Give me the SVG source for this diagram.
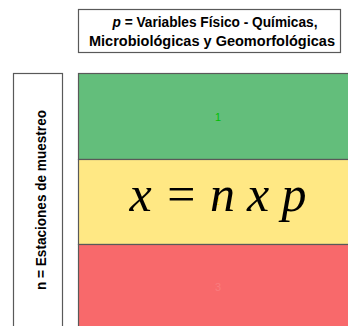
<svg xmlns="http://www.w3.org/2000/svg" width="348" height="326" viewBox="0 0 348 326">
<style>
.box{stroke:#595959;stroke-width:1.2}
.lbl{font-family:"Liberation Sans",Arial,sans-serif;font-weight:bold;font-size:14px;fill:#000}
.num{font-family:"Liberation Sans",Arial,sans-serif;font-size:11px;text-anchor:middle}
.eq{font-family:"Liberation Serif","Times New Roman",serif;font-style:italic;font-size:50px;fill:#000;text-anchor:middle}
</style>
<rect width="348" height="326" fill="#fff"/>
<g id="header">
<rect class="box" x="78.5" y="9.5" width="262" height="43" fill="#fff"/>
<text class="lbl" x="215" y="27" text-anchor="middle" textLength="205" lengthAdjust="spacingAndGlyphs"><tspan font-style="italic">p</tspan>  = Variables Físico - Químicas,</text>
<text class="lbl" x="212" y="46" text-anchor="middle" textLength="246" lengthAdjust="spacingAndGlyphs">Microbiológicas y Geomorfológicas</text>
</g>
<g id="n-label">
<rect class="box" x="13.5" y="73.5" width="49" height="260" fill="#fff"/>
<text class="lbl" transform="translate(46,200) rotate(-90)" text-anchor="middle" textLength="180" lengthAdjust="spacingAndGlyphs">n = Estaciones de muestreo</text>
</g>
<g id="row1">
<rect class="box" x="78.5" y="73.5" width="280" height="86" fill="#63BE7B"/>
<text class="num" x="218" y="121" fill="#00C000">1</text>
</g>
<g id="row2">
<rect class="box" x="78.5" y="159.5" width="280" height="85" fill="#FFE884"/>
<text class="num" x="217" y="205" fill="#FFE000">2</text>
<text class="eq" x="218" y="211" textLength="177" lengthAdjust="spacing">x = n x p</text>
</g>
<g id="row3">
<rect class="box" x="78.5" y="244.5" width="280" height="90" fill="#F8696B"/>
<text class="num" x="218" y="291" fill="#FA7C7E">3</text>
</g>
<g id="connectors"/>
</svg>
